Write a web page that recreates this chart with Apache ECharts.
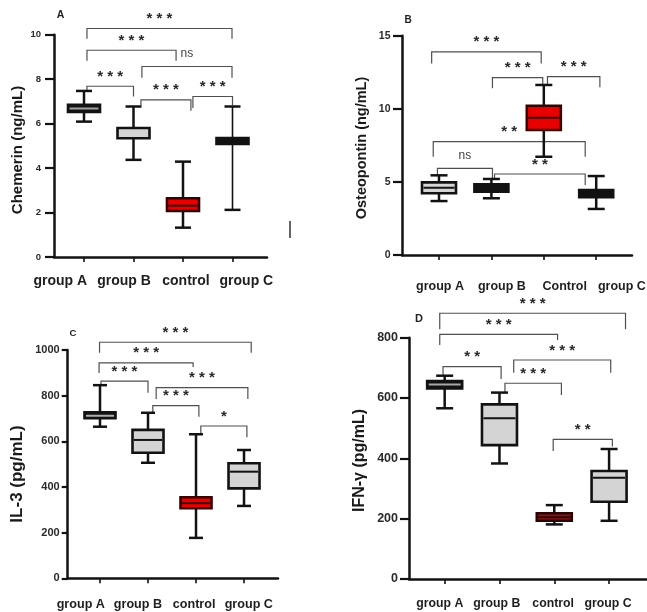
<!DOCTYPE html>
<html><head><meta charset="utf-8">
<script src="https://cdn.jsdelivr.net/npm/echarts@6/dist/echarts.min.js"></script>
<style>html,body{margin:0;padding:0;background:#fff}#c{width:647px;height:612px}</style>
</head><body><div id="c"></div>
<script>
// ---------- data ----------
const catsA = ['group A', 'group B', 'control', 'group C'];
const catsB = ['group A', 'group B', 'Control', 'group C'];
const catsC = ['group A', 'group B', 'control', 'group C'];
const catsD = ['group A', 'group B', 'control', 'group C'];

// [min, Q1, median, Q3, max]
const chemerinBoxes = [[6.09, 6.52, 6.68, 6.85, 7.47], [4.37, 5.34, 5.55, 5.8, 6.77], [1.32, 2.07, 2.31, 2.64, 4.29], [2.12, 5.09, 5.22, 5.35, 6.77]];
const osteopontinBoxes = [[3.69, 4.22, 4.6, 4.97, 5.45], [3.88, 4.33, 4.58, 4.84, 5.2], [6.72, 8.55, 9.39, 10.21, 11.63], [3.15, 3.95, 4.2, 4.45, 5.4]];
const il3Boxes = [[664, 701, 712, 727, 846], [506, 550, 606, 650, 725], [177, 307, 329, 355, 631], [317, 394, 467, 504, 562]];
const ifngBoxes = [[566, 632, 645, 656, 674], [383, 444, 533, 579, 618], [181, 193, 205, 218, 245], [193, 256, 336, 358, 431]];

// significance brackets: [from, to, line value, left end value, right end value]
const chemerinBrackets = [[0.06, 2.99, 10.28, 9.82, 9.82], [0.06, 1.86, 9.3, 8.83, 8.83], [1.17, 2.99, 8.57, 8.06, 8.06], [0.06, 1.0, 7.68, 7.5, 7.22], [1.15, 2.16, 7.07, 6.81, 6.58], [2.2, 3.0, 7.22, 6.7, 6.82]];
const chemerinSig = ['* * *', '* * *', 'ns', '* * *', '* * *', '* * *'];
const osteopontinBrackets = [[-0.14, 1.95, 13.9, 13.1, 13.1], [1.02, 1.98, 12.13, 11.4, 11.7], [2.07, 3.07, 12.2, 11.7, 11.47], [-0.11, 2.79, 7.75, 6.72, 6.72], [-0.03, 1.02, 5.93, 5.47, 5.18], [1.06, 2.79, 5.54, 5.25, 4.79]];
const osteopontinSig = ['* * *', '* * *', '* * *', '* *', 'ns', '* *'];
const il3Brackets = [[-0.01, 3.15, 1034, 988, 988], [-0.02, 1.94, 944, 899, 925], [0.02, 1.0, 864, 846, 813], [1.17, 3.08, 835, 785, 785], [1.1, 2.06, 756, 725, 708], [2.1, 3.06, 667, 632, 618]];
const il3Sig = ['* * *', '* * *', '* * *', '* * *', '* * *', '*'];
const ifngBrackets = [[-0.09, 3.3, 881, 828, 828], [-0.09, 2.06, 811, 776, 792], [-0.03, 1.03, 704, 673, 663], [1.26, 3.03, 726, 684, 684], [1.1, 2.13, 649, 617, 610], [1.98, 3.06, 463, 424, 439]];
const ifngSig = ['* * *', '* * *', '* *', '* * *', '* * *', '* *'];

const ticksA = [0, 2, 4, 6, 8, 10];
const ticksB = [0, 5, 10, 15];
const ticksC = [0, 200, 400, 600, 800, 1000];
const ticksD = [0, 200, 400, 600, 800];

// ---------- styles ----------
const FONT = '"Liberation Sans", Arial, sans-serif';
const BLACK = '#121212', GRAY = '#d4d4d4', RED = '#e80000', DRED = '#8a1616';

const panels = [
  { title: 'A', titleAt: [60.5, 15.5], titleSize: 10.5, name: 'Chemerin (ng/mL)', nameAt: [18, 150], nameSize: 15,
    cats: catsA, boxes: chemerinBoxes, brackets: chemerinBrackets, sig: chemerinSig, ticks: ticksA,
    grid: { left: 54, top: 34.7, width: 213, height: 222.3 }, xMin: -0.606, xMax: 3.697,
    labelAt: [-0.48, 0.81, 2.06, 3.28], xFont: 14, xMargin: 17, yFont: 9.5, yMargin: 13, tickLen: 9,
    boxW: 32, capW: 16, fills: [BLACK, GRAY, RED, BLACK], borders: [BLACK, BLACK, '#3a0000', BLACK],
    medians: ['#a0a0a0', GRAY, '#3a0000', BLACK], whisk: [2.5, 2.5, 2.5, 1.6] },
  { title: 'B', titleAt: [408, 20.7], titleSize: 10, name: 'Osteopontin (ng/mL)', nameAt: [361.7, 148], nameSize: 14.5,
    cats: catsB, boxes: osteopontinBoxes, brackets: osteopontinBrackets, sig: osteopontinSig, ticks: ticksB,
    grid: { left: 402, top: 35.7, width: 230, height: 219.3 }, xMin: -0.706, xMax: 3.683,
    labelAt: [0.02, 1.2, 2.4, 3.49], xFont: 12.5, xMargin: 25, yFont: 10.5, yMargin: 11.5, tickLen: 9,
    boxW: 34, capW: 17, fills: [GRAY, BLACK, RED, BLACK], borders: [BLACK, BLACK, '#3a0000', BLACK],
    medians: [BLACK, BLACK, '#3a0000', BLACK], whisk: [2.5, 2.5, 2.5, 2.5] },
  { title: 'C', titleAt: [73, 333.3], titleSize: 9.5, name: 'IL-3 (pg/mL)', nameAt: [17, 474], nameSize: 17,
    cats: catsC, boxes: il3Boxes, brackets: il3Brackets, sig: il3Sig, ticks: ticksC,
    grid: { left: 67.7, top: 350, width: 210.3, height: 228.3 }, xMin: -0.673, xMax: 3.708,
    labelAt: [-0.4, 0.79, 1.96, 3.1], xFont: 12.6, xMargin: 20, yFont: 11, yMargin: 8, tickLen: 6,
    boxW: 31, capW: 14, fills: [BLACK, GRAY, RED, GRAY], borders: [BLACK, BLACK, '#3a0000', BLACK],
    medians: ['#b0b0b0', BLACK, '#3a0000', BLACK], whisk: [2.5, 2.5, 2.5, 2.5] },
  { title: 'D', titleAt: [419, 319], titleSize: 11, name: 'IFN-γ (pg/mL)', nameAt: [360, 460.5], nameSize: 16,
    cats: catsD, boxes: ifngBoxes, brackets: ifngBrackets, sig: ifngSig, ticks: ticksD,
    grid: { left: 409, top: 337.7, width: 238, height: 241.3 }, xMin: -0.651, xMax: 3.692,
    labelAt: [-0.09, 0.95, 1.98, 2.98], xFont: 12.3, xMargin: 19, yFont: 12.5, yMargin: 11, tickLen: 9,
    boxW: 35, capW: 17, fills: [BLACK, GRAY, DRED, GRAY], borders: [BLACK, BLACK, '#2a0505', BLACK],
    medians: ['#a8a8a8', BLACK, '#2a0505', BLACK], whisk: [2.5, 2.5, 2.5, 2.5] }
];

function boxRenderer(p) {
  return function (params, api) {
    const i = params.dataIndex;
    const x = api.value(0);
    const pMin = api.coord([x, api.value(1)]);
    const pQ1 = api.coord([x, api.value(2)]);
    const pMed = api.coord([x, api.value(3)]);
    const pQ3 = api.coord([x, api.value(4)]);
    const pMax = api.coord([x, api.value(5)]);
    const cx = pMin[0], w = p.boxW, cw = p.capW;
    const ws = { stroke: BLACK, lineWidth: p.whisk[i] };
    const cs = { stroke: BLACK, lineWidth: 2.5 };
    return { type: 'group', children: [
      { type: 'line', shape: { x1: cx, y1: pMax[1], x2: cx, y2: pQ3[1] }, style: ws },
      { type: 'line', shape: { x1: cx, y1: pQ1[1], x2: cx, y2: pMin[1] }, style: ws },
      { type: 'line', shape: { x1: cx - cw / 2, y1: pMax[1], x2: cx + cw / 2, y2: pMax[1] }, style: cs },
      { type: 'line', shape: { x1: cx - cw / 2, y1: pMin[1], x2: cx + cw / 2, y2: pMin[1] }, style: cs },
      { type: 'rect', shape: { x: cx - w / 2, y: pQ3[1], width: w, height: pQ1[1] - pQ3[1] },
        style: { fill: p.fills[i], stroke: p.borders[i], lineWidth: 2.6 } },
      { type: 'line', shape: { x1: cx - w / 2 + 1.5, y1: pMed[1], x2: cx + w / 2 - 1.5, y2: pMed[1] },
        style: { stroke: p.medians[i], lineWidth: 2 } }
    ] };
  };
}

function bracketRenderer(p) {
  return function (params, api) {
    const i = params.dataIndex;
    const a = api.coord([api.value(0), api.value(3)]);
    const b = api.coord([api.value(0), api.value(2)]);
    const c = api.coord([api.value(1), api.value(2)]);
    const d = api.coord([api.value(1), api.value(4)]);
    const txt = p.sig[i];
    const isStar = txt.charAt(0) === '*';
    return { type: 'group', children: [
      { type: 'polyline', shape: { points: [a, b, c, d] }, style: { stroke: '#505050', lineWidth: 1.2, fill: null } },
      { type: 'text', x: (b[0] + c[0]) / 2, y: b[1] - (isStar ? 9.5 : 13),
        style: { text: txt, fill: isStar ? '#2a2a2a' : '#444', font: (isStar ? 'bold 15px ' : '12px ') + FONT,
          align: 'center', verticalAlign: 'middle' } }
    ] };
  };
}

const grid = [], xAxis = [], yAxis = [], series = [], graphic = [];
panels.forEach(function (p, k) {
  grid.push(Object.assign({ outerBoundsMode: 'none', containLabel: false }, p.grid));
  xAxis.push({
    type: 'value', gridIndex: k, min: p.xMin, max: p.xMax,
    axisLine: { onZero: false, lineStyle: { color: BLACK, width: 2.5 } },
    axisTick: { show: true, customValues: [0, 1, 2, 3], length: 5, lineStyle: { color: BLACK, width: 1.6 } },
    axisLabel: { customValues: p.labelAt, margin: p.xMargin, color: '#1e1e1e', fontWeight: 'bold', fontSize: p.xFont,
      fontFamily: FONT, formatter: function (v) { return p.cats[Math.abs(Math.round(v))]; } },
    splitLine: { show: false }
  });
  const tks = p.ticks;
  yAxis.push({
    type: 'value', gridIndex: k, min: tks[0], max: tks[tks.length - 1], interval: tks[1] - tks[0],
    axisLine: { show: true, onZero: false, lineStyle: { color: BLACK, width: 2.5 } },
    axisTick: { show: true, length: p.tickLen, lineStyle: { color: BLACK, width: 2.2 } },
    axisLabel: { margin: p.yMargin, color: '#2a2a2a', fontWeight: 'bold', fontSize: p.yFont, fontFamily: FONT,
      formatter: function (v) { return String(v); } },
    splitLine: { show: false }
  });
  series.push({
    type: 'custom', xAxisIndex: k, yAxisIndex: k, clip: false, z: 3,
    data: p.boxes.map(function (b, i) { return [i].concat(b); }),
    encode: { x: 0, y: [1, 2, 3, 4, 5] },
    renderItem: boxRenderer(p)
  });
  series.push({
    type: 'custom', xAxisIndex: k, yAxisIndex: k, clip: false, z: 2,
    data: p.brackets.map(function (b) { return b.slice(); }),
    encode: { x: [0, 1], y: [2, 3, 4] },
    renderItem: bracketRenderer(p)
  });
  graphic.push({ type: 'text', x: p.nameAt[0], y: p.nameAt[1], rotation: Math.PI / 2,
    style: { text: p.name, font: 'bold ' + p.nameSize + 'px ' + FONT, fill: '#1a1a1a', align: 'center', verticalAlign: 'middle' } });
  graphic.push({ type: 'text', x: p.titleAt[0], y: p.titleAt[1],
    style: { text: p.title, font: 'bold ' + p.titleSize + 'px ' + FONT, fill: '#222', align: 'center', verticalAlign: 'middle' } });
});
// stray mark in the original figure
graphic.push({ type: 'line', shape: { x1: 290, y1: 221, x2: 290, y2: 238 }, style: { stroke: '#333', lineWidth: 1.5 } });

const chart = echarts.init(document.getElementById('c'), null, { renderer: 'canvas' });
chart.setOption({ animation: false, backgroundColor: '#fff', grid: grid, xAxis: xAxis, yAxis: yAxis, series: series, graphic: graphic });
</script>
</body></html>
